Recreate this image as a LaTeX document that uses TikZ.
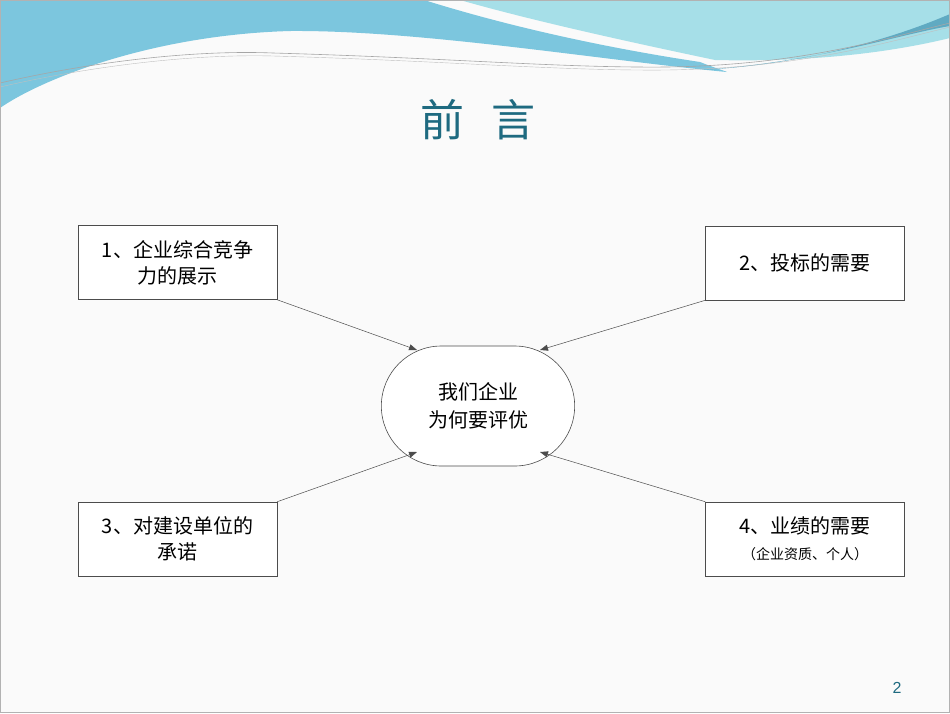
\documentclass[tikz,border=0pt]{standalone}
\usepackage{fontspec}
\setmainfont{Liberation Sans}
\newfontfamily\cjk{Noto Sans CJK SC}
\usetikzlibrary{shapes.misc,arrows.meta}
\definecolor{teal1}{HTML}{1E6A80}
\definecolor{waveA}{HTML}{7CC6DE}
\definecolor{waveB}{HTML}{A6DFE8}
\begin{document}
\begin{tikzpicture}[x=1pt,y=-1pt,
  box/.style={draw=black!70,line width=0.6pt,minimum width=199pt,minimum height=74pt,align=center,font=\cjk\fontsize{20}{26}\selectfont},
  conn/.style={black!70,line width=0.5pt,-{Triangle[length=8pt,width=6pt]}}]
\fill[white!96!gray] (0,0) rectangle (950,713);
\useasboundingbox (0,0) rectangle (950,713);
% waves
\fill[waveA] (0,0) -- (424,0) .. controls (520,30) and (620,50) .. (700,62)
  .. controls (715,68) and (725,71) .. (727,72)
  .. controls (600,60) and (420,30) .. (290,31)
  .. controls (150,35) and (40,80) .. (0,108) -- cycle;
\fill[waveB] (460,0) -- (950,0) -- (950,38) .. controls (880,55) and (800,62) .. (715,60)
  .. controls (620,40) and (530,20) .. (460,0) -- cycle;
\fill[waveA!70!teal1] (950,14) .. controls (890,40) and (800,65) .. (700,70) .. controls (820,62) and (900,34) .. (950,26) -- cycle;
\draw[gray!70,line width=0.6pt] (0,83) .. controls (100,60) and (200,50) .. (273,53) .. controls (450,58) and (560,68) .. (667,67) .. controls (800,65) and (880,40) .. (950,23);
\draw[gray!50,line width=0.4pt] (0,87) .. controls (100,64) and (200,54) .. (273,56) .. controls (450,61) and (560,71) .. (667,70) .. controls (800,68) and (880,44) .. (950,27);
\draw[gray!60,line width=0.8pt] (0.4,0.4) rectangle (949.6,712.6);
% title
\node[text=teal1,font=\cjk\fontsize{44}{50}\selectfont] (title) at (478,120) {前\hspace{0.6em}言};
% boxes
\node[box,fill=white] (b1) at (177.5,262.5) {1、企业综合竞争\\力的展示};
\node[box,fill=white] (b2) at (805,263) {2、投标的需要};
\node[box,fill=white] (b3) at (177.5,539) {3、对建设单位的\\承诺};
\node[box,fill=white] (b4) at (805,539) {4、业绩的需要\\{\fontsize{14}{18}\selectfont （企业资质、个人）}};
\node[draw=black!70,line width=0.6pt,fill=white,rounded rectangle,minimum width=200pt,minimum height=120pt,align=center,font=\cjk\fontsize{20}{28}\selectfont] (c) at (478,406) {我们企业\\为何要评优};
\coordinate (t1) at (417,350);
\coordinate (t2) at (540,350);
\coordinate (t3) at (417,452);
\coordinate (t4) at (540,452);
\draw[conn] (b1.south east) -- (t1);
\draw[conn] (b2.south west) -- (t2);
\draw[conn] (b3.north east) -- (t3);
\draw[conn] (b4.north west) -- (t4);
\node[text=teal1,font=\fontsize{16}{18}\selectfont] (pg) at (897,688) {2};
\end{tikzpicture}
\end{document}
